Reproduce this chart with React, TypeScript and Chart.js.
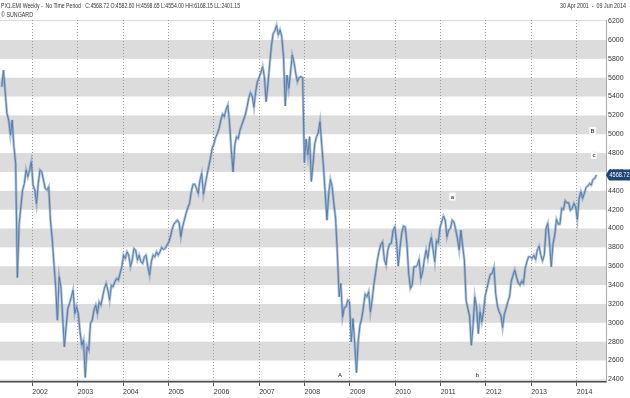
import React, { useEffect, useRef } from 'react';
import { Chart, registerables } from 'chart.js';

Chart.register(...registerables);

// ---- data ----
const seriesStartUTC = Date.UTC(2001, 3, 30); // 30 Apr 2001
const stepDays = 14; // one value every two weeks
const biweeklyClose = [
  5504, 5681, 5451, 5221, 5151, 4991, 5151, 4868, 4691, 3480,
  4050, 4231, 4408, 4478, 4620, 4549, 4620, 4708, 4461, 4408,
  4266, 4478, 4620, 4602, 4514, 4425, 4408, 4443, 4089, 3895,
  3629, 3382, 3028, 3488, 3382, 3063, 2745, 2957, 3152, 3205,
  3276, 3346, 3098, 3169, 3098, 2904, 2762, 2816, 2420, 2745,
  2709, 2992, 3028, 3134, 3187, 3098, 3222, 3187, 3276, 3364,
  3417, 3346, 3240, 3399, 3382, 3435, 3470, 3452, 3523, 3594,
  3718, 3682, 3753, 3718, 3594, 3665, 3788, 3771, 3665, 3718,
  3647, 3629, 3700, 3718, 3594, 3505, 3647, 3718, 3700, 3753,
  3718, 3753, 3799, 3778, 3788, 3824, 3852, 3912, 3990, 4047,
  4068, 4089, 4061, 3912, 4018, 4089, 4160, 4220, 4266, 4390,
  4468, 4471, 4425, 4372, 4514, 4585, 4365, 4461, 4567, 4655,
  4744, 4850, 4896, 4967, 5009, 5062, 5151, 5214, 5186, 5264,
  5310, 5115, 4832, 4600, 4885, 4974, 4956, 5044, 5097, 5151,
  5204, 5285, 5381, 5441, 5405, 5285, 5451, 5557, 5603, 5653,
  5717, 5610, 5345, 5522, 5734, 5929, 6063, 6099, 6155, 6053,
  6106, 6035, 5823, 5300, 5628, 5487, 5646, 5840, 5770, 5646,
  5557, 5603, 5610, 5600, 4700, 4950, 4780, 4974, 4500, 4690,
  4903, 4974, 5016, 5133, 4885, 4655, 4372, 4089, 4365, 4521,
  4443, 4259, 4100, 3735, 3276, 3417, 3063, 3162, 3169, 3240,
  3222, 2798, 3045, 2780, 2470, 2808, 2975, 3045, 3169, 3304,
  3276, 3329, 3116, 3240, 3410, 3530, 3665, 3760, 3831, 3859,
  3672, 3612, 3771, 3835, 3842, 3976, 4018, 3870, 3601, 3792,
  3948, 4026, 4018, 3835, 3523, 3364, 3399, 3594, 3594, 3612,
  3672, 3470, 3541, 3672, 3771, 3682, 3824, 3905, 3778, 3647,
  3870, 3849, 4011, 4071, 4132, 4089, 3912, 3983, 4001, 4089,
  4071, 3990, 3895, 3771, 3983, 3813, 3665, 3240, 3152, 3070,
  2762, 2975, 3276, 3169, 2886, 3116, 3010, 3116, 3290, 3364,
  3452, 3516, 3523, 3587, 3311, 3180, 3116, 3081, 2950, 3091,
  3152, 3222, 3276, 3442, 3505, 3559, 3488, 3424, 3399, 3442,
  3417, 3576, 3647, 3700, 3700, 3682, 3718, 3672, 3771, 3813,
  3718, 3658, 3718, 4001, 4054, 3859, 3594, 3835, 3930, 4096,
  4047, 4047, 4213, 4202, 4294, 4273, 4273, 4195, 4213, 4266,
  4231, 4096, 4319, 4390, 4319, 4372, 4436, 4450, 4478, 4461,
  4521, 4530, 4568.72,
];
const yearTicks = [2002, 2003, 2004, 2005, 2006, 2007, 2008, 2009, 2010, 2011, 2012, 2013, 2014];
const priceTicks = [2400, 2600, 2800, 3000, 3200, 3400, 3600, 3800, 4000, 4200, 4400, 4600, 4800, 5000, 5200, 5400, 5600, 5800, 6000, 6200];
const shadedBandTops = [2400, 2800, 3200, 3600, 4000, 4400, 4800, 5200, 5600, 6000, 6400];
const bandSize = 200;
const waveLabels = ['A', 'a', 'b', 'B', 'c'];
const waveYears = [2008.78, 2011.26, 2011.81, 2014.35, 2014.38];
const waveValues = [2446, 4338, 2451, 5035, 4780];
const headerLine1 = 'PX1.EMI Weekly -  No Time Period   C:4568.72 O:4582.60 H:4598.65 L:4554.00 HH:6168.15 LL:2401.15';
const headerLine2 = '© SUNGARD';
const dateRangeText = '30 Apr 2001  -  09 Jun 2014';
const xRange = [2001.288, 2014.645];
const yRange = [2372, 6212];

function toYearFraction(t: number): number {
  const d = new Date(t);
  const y = d.getUTCFullYear();
  const a = Date.UTC(y, 0, 1);
  const b = Date.UTC(y + 1, 0, 1);
  return y + (t - a) / (b - a);
}

const FONT = '"Liberation Sans Narrow", "Liberation Sans", Arial, sans-serif';

const decorPlugin = {
  id: 'decor',
  beforeDraw(chart: any) {
    const { ctx, chartArea: a, scales } = chart;
    const ys = scales.y;
    ctx.save();
    ctx.beginPath();
    ctx.rect(a.left, a.top, a.right - a.left, a.bottom - a.top);
    ctx.clip();
    ctx.fillStyle = '#dcdcdc';
    for (const top of shadedBandTops) {
      const y1 = ys.getPixelForValue(top);
      const y2 = ys.getPixelForValue(top - bandSize);
      ctx.fillRect(a.left, y1, a.right - a.left, y2 - y1);
    }
    ctx.restore();
  },
  afterDraw(chart: any) {
    const { ctx, scales, chartArea } = chart;
    const xs = scales.x;
    const ys = scales.y;
    ctx.save();
    ctx.font = `6px ${FONT}`;
    ctx.textAlign = 'center';
    ctx.textBaseline = 'middle';
    waveLabels.forEach((lab, i) => {
      const px = xs.getPixelForValue(waveYears[i]);
      const py = ys.getPixelForValue(waveValues[i]);
      const w = ctx.measureText(lab).width + 3;
      ctx.fillStyle = 'rgba(250,250,250,0.95)';
      ctx.fillRect(px - w / 2, py - 4, w, 8);
      ctx.fillStyle = '#222';
      ctx.fillText(lab, px, py + 0.5);
    });
    const last = biweeklyClose[biweeklyClose.length - 1];
    const ty = ys.getPixelForValue(last);
    const left = chartArea.right;
    const right = chart.width;
    ctx.fillStyle = '#1f4577';
    ctx.beginPath();
    ctx.moveTo(left, ty);
    ctx.lineTo(left + 3, ty - 5.5);
    ctx.lineTo(right, ty - 5.5);
    ctx.lineTo(right, ty + 5.5);
    ctx.lineTo(left + 3, ty + 5.5);
    ctx.closePath();
    ctx.fill();
    ctx.fillStyle = '#ffffff';
    ctx.textAlign = 'left';
    ctx.font = `7px ${FONT}`;
    ctx.fillText(last.toFixed(2), left + 3.5, ty + 0.5, right - left - 4);
    ctx.restore();
  },
};

function FitText({ text, width, left, top }: { text: string; width: number; left: number; top: number }) {
  const ref = useRef<HTMLSpanElement>(null);
  useEffect(() => {
    const el = ref.current;
    if (!el) return;
    el.style.transform = 'none';
    const w = el.getBoundingClientRect().width;
    if (w > 0) el.style.transform = `scaleX(${width / w})`;
  }, [text, width]);
  return (
    <span
      ref={ref}
      style={{
        position: 'absolute',
        left,
        top,
        whiteSpace: 'pre',
        fontFamily: FONT,
        fontSize: 7,
        lineHeight: '8px',
        color: '#333',
        transformOrigin: 'left top',
      }}
    >
      {text}
    </span>
  );
}

export default function App() {
  const canvasRef = useRef<HTMLCanvasElement>(null);

  useEffect(() => {
    const canvas = canvasRef.current;
    if (!canvas) return;
    const points = biweeklyClose.map((v, i) => ({
      x: toYearFraction(seriesStartUTC + i * stepDays * 86400000),
      y: v,
    }));
    const chart = new Chart(canvas, {
      type: 'line',
      data: {
        datasets: [
          {
            data: points,
            borderColor: 'rgba(110,145,190,0.55)',
            borderWidth: 2.6,
            pointRadius: 0,
            tension: 0,
          },
          {
            data: points,
            borderColor: '#3a6494',
            borderWidth: 1,
            pointRadius: 0,
            tension: 0,
          },
        ],
      },
      options: {
        animation: false,
        responsive: false,
        maintainAspectRatio: false,
        layout: { padding: { top: 20, left: 0, right: 0, bottom: 0 } },
        plugins: { legend: { display: false }, tooltip: { enabled: false } },
        scales: {
          x: {
            type: 'linear',
            position: 'bottom',
            min: xRange[0],
            max: xRange[1],
            afterBuildTicks: (s: any) => {
              s.ticks = yearTicks.map((v) => ({ value: v }));
            },
            afterFit: (s: any) => {
              s.height = 16;
            },
            grid: {
              display: true,
              drawOnChartArea: true,
              drawTicks: true,
              tickLength: 4,
              color: '#9a9a9a',
              tickColor: '#555',
              lineWidth: 1,
            },
            border: { display: true, color: '#4a4a4a', width: 1.5, dash: [1, 2] },
            ticks: {
              align: 'start',
              maxRotation: 0,
              autoSkip: false,
              padding: 2,
              color: '#333',
              font: { family: FONT, size: 7 },
              callback: (v: any) => String(v),
            },
          },
          y: {
            position: 'right',
            min: yRange[0],
            max: yRange[1],
            afterBuildTicks: (s: any) => {
              s.ticks = priceTicks.map((v) => ({ value: v }));
            },
            afterFit: (s: any) => {
              s.width = 24;
            },
            grid: { display: false, drawTicks: false },
            border: { display: true, color: '#a8a8a8', width: 1 },
            ticks: {
              autoSkip: false,
              padding: 2,
              color: '#333',
              font: { family: FONT, size: 7 },
              callback: (v: any) => String(v),
            },
          },
        },
      },
      plugins: [decorPlugin],
    } as any);
    return () => chart.destroy();
  }, []);

  return (
    <div
      style={{
        position: 'fixed',
        left: 0,
        top: 0,
        width: 630,
        height: 398,
        background: '#ffffff',
        overflow: 'hidden',
      }}
    >
      <canvas ref={canvasRef} width={630} height={398} style={{ width: 630, height: 398, display: 'block' }} />
      <FitText text={headerLine1} width={239} left={1} top={2} />
      <FitText text={headerLine2} width={32} left={1} top={11} />
      <FitText text={dateRangeText} width={66} left={560} top={2} />
    </div>
  );
}
